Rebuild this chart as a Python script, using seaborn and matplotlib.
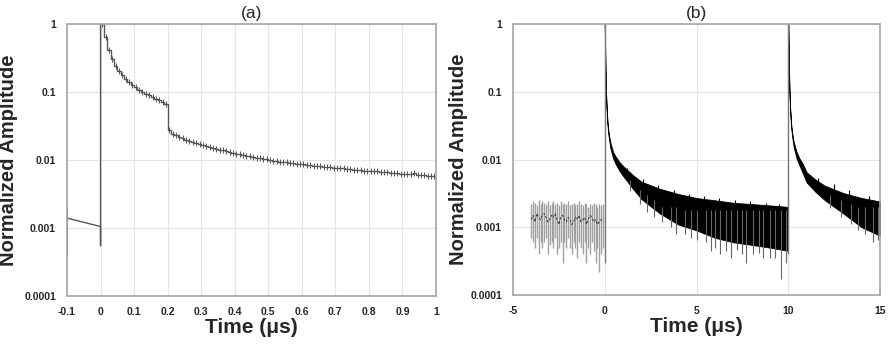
import numpy as np
import pandas as pd
import matplotlib
matplotlib.use("Agg")
import matplotlib.pyplot as plt
import seaborn as sns

# ----------------------------------------------------------
# DATA
# ----------------------------------------------------------
# (a) pre-trigger segment
pre_t = [-0.1, -0.1, -0.1, 0.0, 0.0, 0.0]
pre_v = [0.0004, 0.002, 0.0014, 0.00105, 0.00055, 1.0]

# (a) stepped decay, one value per 0.01 us bin starting at t = 0
step_t = np.round(np.arange(0.0, 1.0, 0.01), 2)
step_v = [
    1.0, 0.64, 0.42, 0.31, 0.245, 0.205, 0.175, 0.155, 0.14, 0.127,
    0.117, 0.108, 0.101, 0.095, 0.089, 0.084, 0.079, 0.075, 0.071, 0.066,
    0.028, 0.0245, 0.023, 0.0218, 0.0208, 0.0199, 0.0191, 0.0184, 0.0177, 0.0171,
    0.0165, 0.0160, 0.0155, 0.0150, 0.0146, 0.0142, 0.0138, 0.0134, 0.0131, 0.0128,
    0.0124, 0.0121, 0.0118, 0.0116, 0.0113, 0.0111, 0.0108, 0.0106, 0.0104, 0.0102,
    0.0100, 0.0098, 0.0097, 0.0095, 0.0093, 0.0092, 0.0090, 0.0089, 0.0088, 0.0087,
    0.0087, 0.0085, 0.0084, 0.0083, 0.0082, 0.0083, 0.0080, 0.0079, 0.0078, 0.0077,
    0.0076, 0.0075, 0.0075, 0.0074, 0.0073, 0.0072, 0.0072, 0.0071, 0.0070, 0.0069,
    0.0069, 0.0068, 0.0068, 0.0067, 0.0066, 0.0067, 0.0065, 0.0065, 0.0064, 0.0063,
    0.0063, 0.0062, 0.0062, 0.0064, 0.0061, 0.0060, 0.0060, 0.0059, 0.0059, 0.0058,
]

# (b) pre-trigger noise: bar per 0.1 us from -4 us
noise_t = np.round(np.arange(-4.0, 0.0, 0.1), 2)
noise_top = [
    0.0022, 0.0024, 0.0023, 0.0021, 0.0025, 0.0022, 0.0024, 0.0023, 0.0022, 0.0024,
    0.0021, 0.0023, 0.0024, 0.0022, 0.0023, 0.0021, 0.0024, 0.0022, 0.0023, 0.0022,
    0.0024, 0.0021, 0.0022, 0.0023, 0.0021, 0.0022, 0.0024, 0.0022, 0.0021, 0.0023,
    0.0022, 0.0020, 0.0022, 0.0021, 0.0023, 0.0022, 0.0020, 0.0022, 0.0021, 0.0022,
]
noise_bot = [
    0.0007, 0.0006, 0.0005, 0.0007, 0.0004, 0.0006, 0.0005, 0.0006, 0.0007, 0.0004,
    0.00055, 0.0006, 0.0005, 0.0007, 0.0004, 0.0005, 0.0006, 0.0003, 0.0006, 0.0005,
    0.0007, 0.0005, 0.0004, 0.0006, 0.0005, 0.00035, 0.0006, 0.0005, 0.0004, 0.0006,
    0.0003, 0.0005, 0.0004, 0.0006, 0.00045, 0.0003, 0.0005, 0.00022, 0.0004, 0.0005,
]
noise_mid = [
    0.0013, 0.0015, 0.0012, 0.0016, 0.0014, 0.0013, 0.0015, 0.0016, 0.0014, 0.0012,
    0.0013, 0.0015, 0.0014, 0.0016, 0.0013, 0.0011, 0.0014, 0.0015, 0.0013, 0.0012,
    0.0014, 0.0013, 0.0011, 0.0012, 0.0014, 0.0013, 0.0015, 0.0012, 0.0013, 0.0014,
    0.0011, 0.0013, 0.0015, 0.0014, 0.0012, 0.0013, 0.0011, 0.0012, 0.0013, 0.0012,
]

# (b) first pulse decay envelope
t1  = [0, 0.03, 0.06, 0.1, 0.15, 0.2, 0.3, 0.45, 0.6, 0.8, 1.0, 1.5, 2.0, 3.0,
       4.0, 5.0, 6.0, 7.0, 8.0, 9.0, 9.98]
up1 = [1, 0.3, 0.12, 0.06, 0.036, 0.026, 0.018, 0.013, 0.011, 0.0092, 0.0080,
       0.0060, 0.0047, 0.0037, 0.0031, 0.0027, 0.0025, 0.0023, 0.0022, 0.0021, 0.0020]
lo1 = [1, 0.28, 0.11, 0.055, 0.032, 0.023, 0.015, 0.0105, 0.0085, 0.0068, 0.0057,
       0.0038, 0.0026, 0.0016, 0.0011, 0.0009, 0.0007, 0.0006, 0.00055, 0.0005, 0.00045]

# (b) second pulse decay envelope
t2  = [10, 10.03, 10.06, 10.1, 10.15, 10.2, 10.3, 10.45, 10.6, 10.8, 11.0, 11.5,
       12.0, 13.0, 14.0, 15.0]
up2 = [1, 0.3, 0.12, 0.06, 0.036, 0.026, 0.018, 0.013, 0.0105, 0.0085, 0.0065,
       0.0050, 0.0041, 0.0032, 0.0027, 0.0024]
lo2 = [1, 0.28, 0.11, 0.055, 0.032, 0.023, 0.015, 0.0105, 0.0083, 0.0062, 0.0046,
       0.0033, 0.0025, 0.0016, 0.0010, 0.00075]

# (b) trigger edges
edge_t = [0.0, 10.0]
edge_lo = [0.0003, 0.0004]

# (b) stray low samples below the band (bottom / top inside band)
spike_t = [1.4, 1.9, 2.3, 2.7, 3.1, 3.6, 3.9, 4.4, 4.7, 5.0, 5.5, 5.8, 6.0, 6.3,
           6.6, 6.9, 7.2, 7.5, 7.7, 8.1, 8.4, 8.6, 9.0, 9.3, 9.6, 9.9,
           12.3, 12.9, 13.4, 13.8, 14.2, 14.6, 14.9]
spike_lo = [0.0034, 0.0022, 0.0017, 0.0014, 0.0012, 0.001, 0.0008, 0.0008, 0.0007,
            0.00065, 0.0006, 0.00045, 0.0005, 0.0004, 0.00045, 0.00035, 0.00046,
            0.0004, 0.0003, 0.0004, 0.00042, 0.00035, 0.00035, 0.00035, 0.00017,
            0.0003, 0.0019, 0.0014, 0.0011, 0.0009, 0.0008, 0.0006, 0.00065]
spike_hi = [0.005, 0.0035, 0.003, 0.0025, 0.002, 0.002, 0.002, 0.0018, 0.0018,
            0.0018, 0.0018, 0.0018, 0.0018, 0.0018, 0.0018, 0.0018, 0.0018,
            0.0018, 0.0018, 0.0018, 0.0018, 0.0018, 0.0018, 0.0018, 0.0018,
            0.0018, 0.003, 0.0025, 0.0022, 0.002, 0.002, 0.002, 0.002]

# (b) small upward excursions on the top of the band
bump_t = [1.2, 2.1, 2.9, 3.8, 4.6, 5.4, 6.2, 7.1, 7.9, 8.8, 9.5, 11.6, 12.5, 13.3, 14.4]
bump_lo = [0.006, 0.0042, 0.0035, 0.0028, 0.0025, 0.0022, 0.002, 0.0019, 0.0018,
           0.0017, 0.0017, 0.0045, 0.0036, 0.003, 0.0024]
bump_hi = [0.0075, 0.0052, 0.0042, 0.0035, 0.0031, 0.0029, 0.0027, 0.0025, 0.0024,
           0.0023, 0.0022, 0.0054, 0.0043, 0.0036, 0.0029]

# ----------------------------------------------------------
# STYLE
# ----------------------------------------------------------
sns.set_style("white")
plt.rcParams["font.family"] = ["Liberation Sans", "DejaVu Sans"]

TRACE = "#555555"
GRID = "#e4e4e4"
SPINE = "#a6a6a6"

fig = plt.figure(figsize=(8.92, 3.45), dpi=100)
ax_a = fig.add_axes([67 / 892, 49 / 345, 369 / 892, 272 / 345])
ax_b = fig.add_axes([513 / 892, 50 / 345, 367 / 892, 271 / 345])


def style_axes(ax, xticks, xlabels, title, ylab_x):
    ax.set_yscale("log")
    ax.set_ylim(1e-4, 1)
    ax.set_yticks([1e-4, 1e-3, 1e-2, 1e-1, 1])
    ax.set_yticklabels(["0.0001", "0.001", "0.01", "0.1", "1"])
    ax.minorticks_off()
    ax.set_xlim(xticks[0], xticks[-1])
    ax.set_xticks(xticks)
    ax.set_xticklabels(xlabels)
    ax.grid(True, color=GRID, lw=0.8)
    ax.set_axisbelow(True)
    for s in ax.spines.values():
        s.set_color(SPINE)
        s.set_linewidth(1.2)
    ax.tick_params(length=0, labelsize=7.5, pad=8)
    for lab in ax.get_xticklabels() + ax.get_yticklabels():
        lab.set_fontweight("bold")
    ax.set_xlabel("Time (\u03bcs)", fontsize=15, fontweight="bold")
    ax.xaxis.set_label_coords(0.5, -0.08)
    ax.set_ylabel("Normalized Amplitude", fontsize=14.5, fontweight="bold")
    ax.yaxis.set_label_coords(ylab_x, 0.5)
    ax.set_title(title, fontsize=12.5, pad=4)


# ----------------------------------------------------------
# (a)
# ----------------------------------------------------------
df_pre = pd.DataFrame({"t": pre_t, "v": pre_v})
sns.lineplot(data=df_pre, x="t", y="v", ax=ax_a, estimator=None, sort=False,
             color=TRACE, lw=1.0)

df_step = pd.DataFrame({"t": list(step_t) + [1.0], "v": step_v + [step_v[-1]]})
sns.lineplot(data=df_step, x="t", y="v", ax=ax_a, estimator=None, sort=False,
             color=TRACE, lw=1.0, drawstyle="steps-post")
ax_a.plot(step_t + 0.005, step_v, ls="none", marker="|", ms=4.5, mew=0.7,
          color=TRACE)

style_axes(ax_a, [-0.1, 0, 0.1, 0.2, 0.3, 0.4, 0.5, 0.6, 0.7, 0.8, 0.9, 1.0],
           ["-0.1", "0", "0.1", "0.2", "0.3", "0.4", "0.5", "0.6", "0.7",
            "0.8", "0.9", "1"], "(a)", -0.133)

# ----------------------------------------------------------
# (b)
# ----------------------------------------------------------
ax_b.vlines(noise_t, noise_bot, noise_top, color="#a0a0a0", lw=1.0)
df_mid = pd.DataFrame({"t": noise_t, "v": noise_mid})
sns.lineplot(data=df_mid, x="t", y="v", ax=ax_b, estimator=None, sort=False,
             color="#222222", lw=0.6)
ax_b.lines[-1].set_dashes([3, 2])

ax_b.vlines(spike_t, spike_lo, spike_hi, color="#666666", lw=0.8)
ax_b.vlines(bump_t, bump_lo, bump_hi, color="black", lw=0.8)
ax_b.fill_between(t1, lo1, up1, color="black", lw=0.6, edgecolor="black")
ax_b.fill_between(t2, lo2, up2, color="black", lw=0.6, edgecolor="black")
ax_b.vlines(edge_t, edge_lo, [1, 1], color="#777777", lw=1.0)

style_axes(ax_b, [-5, 0, 5, 10, 15], ["-5", "0", "5", "10", "15"], "(b)", -0.123)

fig.savefig("out.png", dpi=100)
